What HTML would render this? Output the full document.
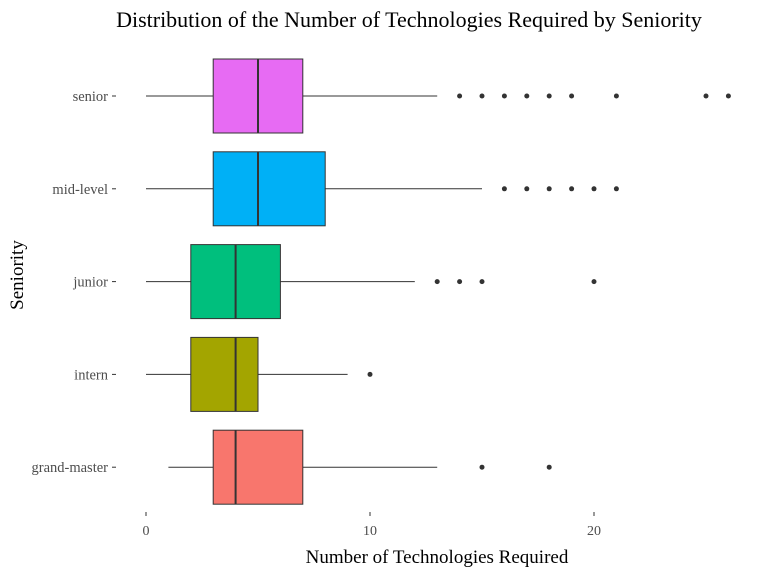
<!DOCTYPE html>
<html><head><meta charset="utf-8"><style>
body{margin:0;background:#fff}
svg{display:block;font-family:"Liberation Serif",serif}
</style></head><body>
<svg id="chart" width="768" height="576">
<text x="409" y="27" font-size="22" text-anchor="middle" fill="#000">Distribution of the Number of Technologies Required by Seniority</text>
<text x="437" y="563" font-size="19" text-anchor="middle" fill="#000">Number of Technologies Required</text>
<text transform="translate(23,275) rotate(-90)" font-size="19" text-anchor="middle" fill="#000">Seniority</text>
<g id="plot"></g>
</svg>
<script>
const categories=["senior","mid-level","junior","intern","grand-master"];
const colors=["#E76BF3","#00B0F6","#00BF7D","#A3A500","#F8766D"];
const whiskLow=[0,0,0,0,1];
const q1=[3,3,2,2,3];
const medians=[5,5,4,4,4];
const q3=[7,8,6,5,7];
const whiskHigh=[13,15,12,9,13];
const outliers=[[14,15,16,17,18,19,21,25,26],[16,17,18,19,20,21],[13,14,15,20],[10],[15,18]];
const xTicks=[0,10,20];
const NS="http://www.w3.org/2000/svg";
const x=v=>146+v*22.4;
const yc=i=>96+i*92.8;
const g=document.getElementById('plot');
function mk(t,a){const e=document.createElementNS(NS,t);for(const k in a)e.setAttribute(k,a[k]);g.appendChild(e);return e;}
xTicks.forEach(t=>{
  const tk=mk('line',{x1:x(t),x2:x(t),y1:512,y2:516,stroke:'#333'});
  
  
  const tx=mk('text',{x:x(t),y:535,'font-size':14,'text-anchor':'middle',fill:'#4d4d4d'});
  tx.textContent=t;
  
  
});
categories.forEach((c,i)=>{
  const y=yc(i),h=37;
  const lab=mk('text',{x:108,y:y+5,'font-size':14.5,'text-anchor':'end',fill:'#4d4d4d'});
  lab.textContent=c;
  
  
  mk('line',{x1:112,x2:116,y1:y,y2:y,stroke:'#333'});
  const w1=mk('line',{x1:x(whiskLow[i]),x2:x(q1[i]),y1:y,y2:y,stroke:'#333','stroke-width':1});
  
  
  const w2=mk('line',{x1:x(q3[i]),x2:x(whiskHigh[i]),y1:y,y2:y,stroke:'#333','stroke-width':1});
  
  
  const b=mk('rect',{x:x(q1[i]),y:y-h,width:x(q3[i])-x(q1[i]),height:2*h,fill:colors[i],stroke:'#333','stroke-width':1});
  
  
  const m=mk('line',{x1:x(medians[i]),x2:x(medians[i]),y1:y-h,y2:y+h,stroke:'#333','stroke-width':2});
  
  
  outliers[i].forEach(o=>{
    const p=mk('circle',{cx:x(o),cy:y,r:2.5,fill:'#333'});
    
    
  });
});
</script>
</body></html>
